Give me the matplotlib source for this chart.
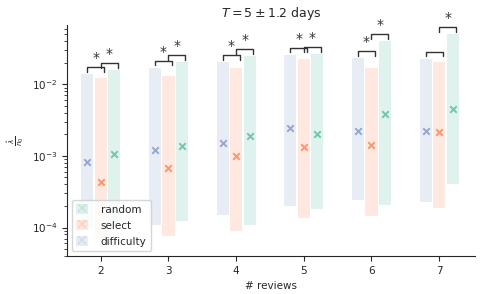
import numpy as np
import matplotlib
matplotlib.use("Agg")
import matplotlib.pyplot as plt
import seaborn as sns
from matplotlib.patches import Patch
from matplotlib.lines import Line2D

sns.set_style("ticks")

n_reviews = [2, 3, 4, 5, 6, 7]
methods = ["difficulty", "select", "random"]
colors = {"difficulty": "#8da0cb", "select": "#fc8d62", "random": "#66c2a5"}

# bar ranges (low, high) and median marker per method
low = {
    "difficulty": [1.0e-4, 1.07e-4, 1.49e-4, 1.99e-4, 2.41e-4, 2.26e-4],
    "select":     [5.8e-5, 7.7e-5, 8.9e-5, 1.34e-4, 1.44e-4, 1.85e-4],
    "random":     [1.05e-4, 1.22e-4, 1.07e-4, 1.79e-4, 2.05e-4, 4.0e-4],
}
high = {
    "difficulty": [0.0138, 0.0168, 0.0203, 0.0255, 0.0231, 0.0224],
    "select":     [0.0121, 0.0129, 0.0168, 0.0224, 0.0168, 0.0203],
    "random":     [0.0157, 0.0203, 0.0246, 0.0263, 0.0399, 0.0500],
}
median = {
    "difficulty": [8.2e-4, 1.2e-3, 1.5e-3, 2.44e-3, 2.24e-3, 2.26e-3],
    "select":     [4.3e-4, 6.7e-4, 9.9e-4, 1.32e-3, 1.41e-3, 2.14e-3],
    "random":     [1.06e-3, 1.37e-3, 1.89e-3, 2.0e-3, 3.9e-3, 4.5e-3],
}
# significance: difficulty vs select, select vs random
sig_ds = [True, True, True, True, True, False]
sig_sr = [True, True, True, True, True, True]

offsets = {"difficulty": -0.2, "select": 0.0, "random": 0.2}
width = 0.18

fig = plt.figure(figsize=(4.8, 2.94), dpi=100)
ax = fig.add_axes([67 / 480, 1 - 256 / 294, 408 / 480, 231 / 294])

x = np.array(n_reviews, dtype=float)
for m in methods:
    lo = np.array(low[m])
    hi = np.array(high[m])
    ax.bar(x + offsets[m], hi - lo, bottom=lo, width=width,
           color=colors[m], alpha=0.2, linewidth=0)
    ax.scatter(x + offsets[m], median[m], marker="x", s=22,
               color=colors[m], linewidths=1.4, alpha=0.9, zorder=3)

ax.set_yscale("log")

# bracket + star between two bars
def bracket(x1, x2, top, star):
    y = top * 1.28
    yl = y / 1.17
    ax.plot([x1, x1, x2, x2], [yl, y, y, yl], color="#333333", lw=1.0)
    if star:
        ax.text((x1 + x2) / 2, y * 1.04, "*", ha="center", va="bottom",
                fontsize=10, color="#333333")

for i, xi in enumerate(n_reviews):
    t1 = max(high["difficulty"][i], high["select"][i])
    bracket(xi - 0.2, xi + 0.05, t1, sig_ds[i])
    t2 = max(high["select"][i], high["random"][i])
    bracket(xi, xi + 0.25, t2, sig_sr[i])

ax.set_xlim(1.5, 7.53)
ax.set_ylim(4e-5, 0.0675)
ax.set_xticks(n_reviews)
ax.tick_params(labelsize=7.5)
ax.set_xlabel("# reviews", fontsize=7.5)
ax.set_ylabel(r"$\frac{\hat{\lambda}}{n_0}$", fontsize=7.5)
ax.set_title(r"$T = 5 \pm 1.2$ days", fontsize=9)
sns.despine(ax=ax)

handles = []
for m in ["random", "select", "difficulty"]:
    handles.append((Patch(color=colors[m], alpha=0.2, linewidth=0),
                    Line2D([], [], marker="x", color=colors[m], alpha=0.2,
                           linestyle="none", markersize=6, mew=1.2)))
ax.legend(handles, ["random", "select", "difficulty"], loc="lower left",
          fontsize=7.5, handlelength=1.15, handleheight=1.15,
          handletextpad=1.2)

fig.savefig("out.png", dpi=100)
